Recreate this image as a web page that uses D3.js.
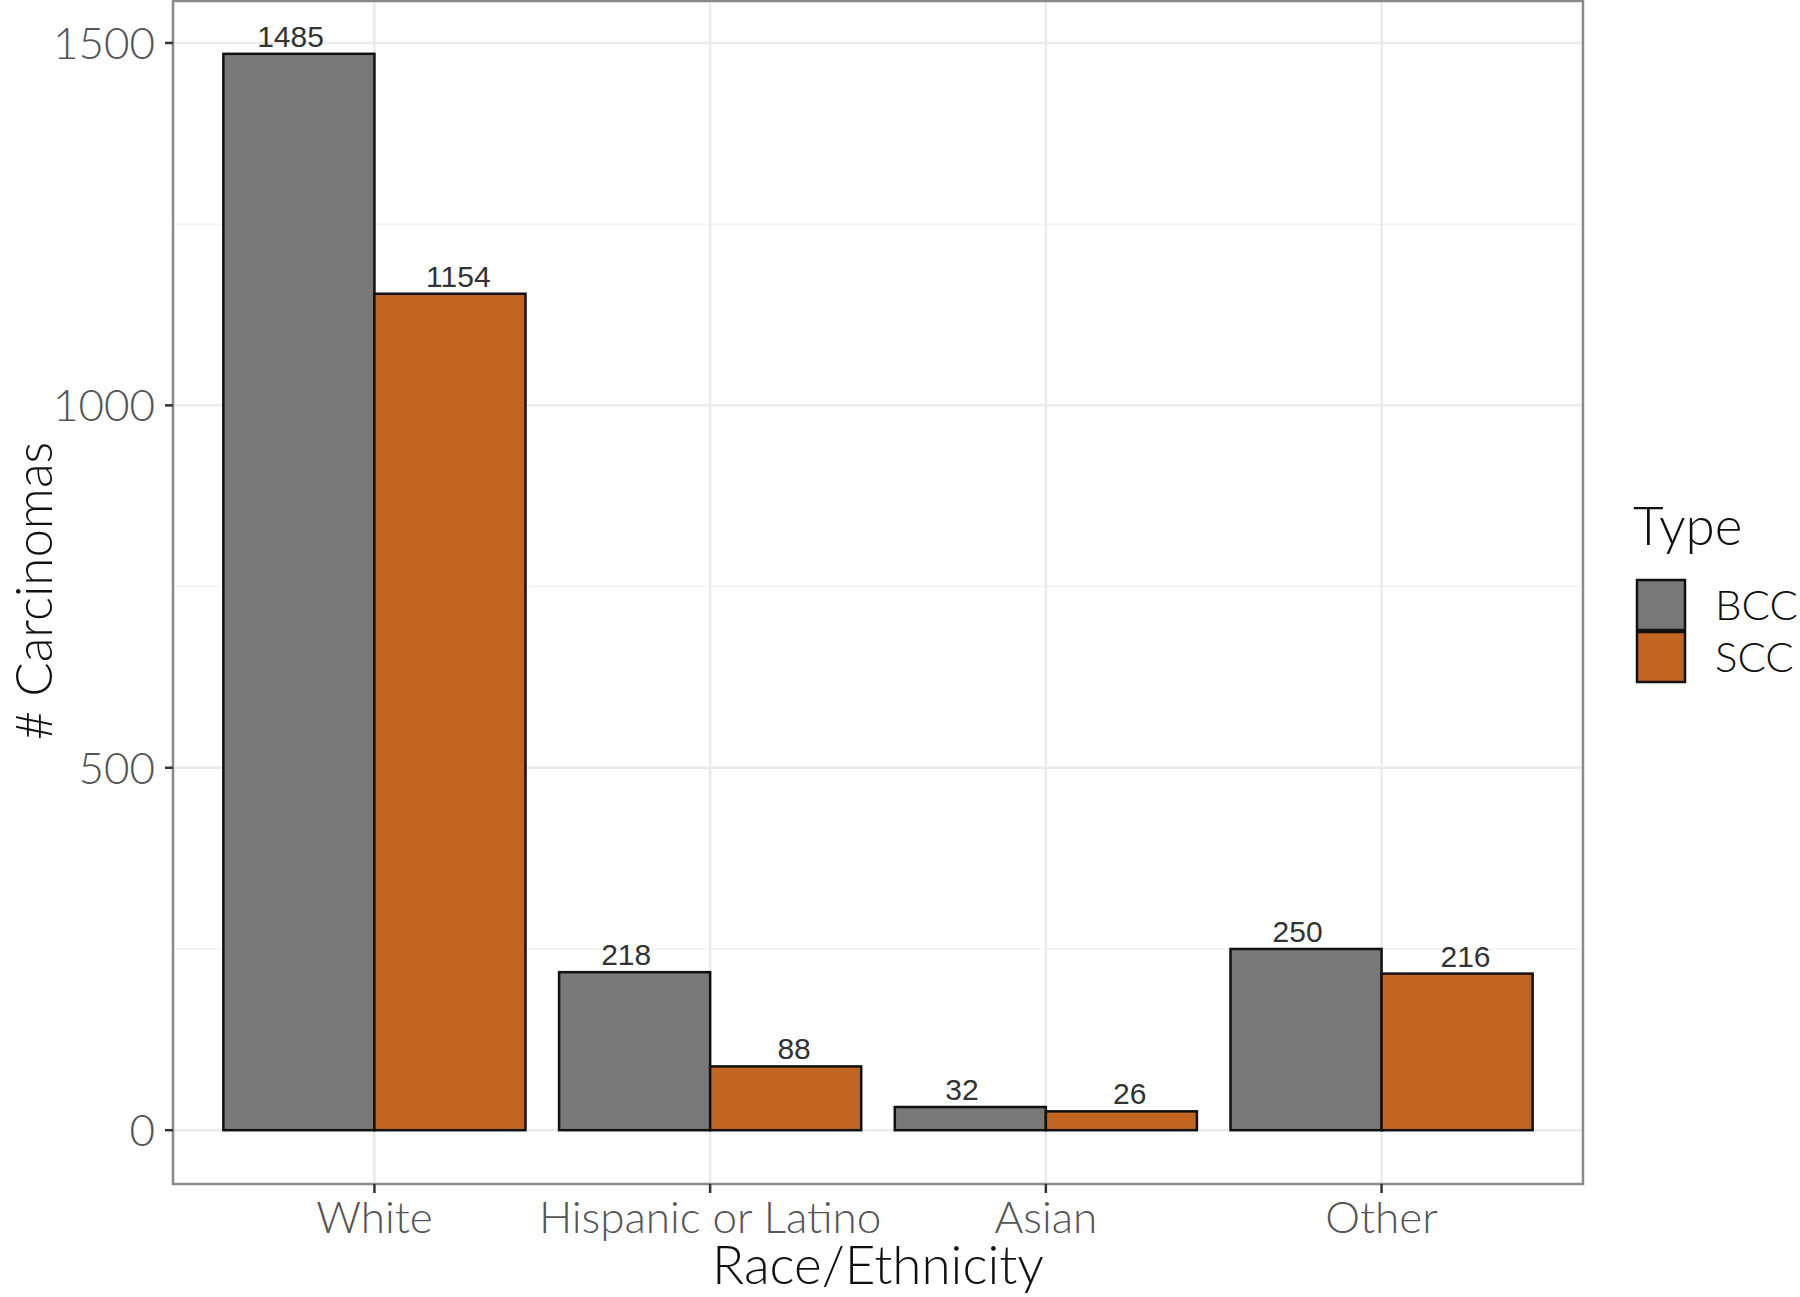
<!DOCTYPE html>
<html><head><meta charset="utf-8">
<script src="https://cdn.jsdelivr.net/npm/d3@7"></script>
<style>body{margin:0;background:#fff}svg{display:block}</style>
</head><body>
<svg id="c" width="1800" height="1297"></svg>
<script>
const categories = ["White", "Hispanic or Latino", "Asian", "Other"];
const types = ["BCC", "SCC"];
const bccValues = [1485, 218, 32, 250];
const sccValues = [1154, 88, 26, 216];
const yTicks = [0, 500, 1000, 1500];
const yMinor = [250, 750, 1250];
const colors = ["#787878", "#C16522"];

const svg = d3.select("#c");
const L = 173, R = 1583, T = 0, B = 1184;
const maxV = d3.max(bccValues.concat(sccValues));
const y = d3.scaleLinear().domain([-0.05*maxV, 1.05*maxV]).range([B, T]);
// ggplot-like discrete scale: categories at 1..n, expanded by 0.6
const step = (R - L) / (categories.length + 0.2);
const cx = d => L + (categories.indexOf(d) + 0.6) * step;
const xs = d3.scaleBand().domain(types).range([-0.45*step, 0.45*step]);
const xl = d3.scaleBand().domain(types).range([-0.5*step, 0.5*step]);

const font = "Lato, 'Open Sans', sans-serif";

// grid
const g = svg.append("g");
yMinor.forEach(v => g.append("line").attr("x1", L).attr("x2", R).attr("y1", y(v)).attr("y2", y(v)).attr("stroke", "#F2F2F2").attr("stroke-width", 1.5));
yTicks.forEach(v => g.append("line").attr("x1", L).attr("x2", R).attr("y1", y(v)).attr("y2", y(v)).attr("stroke", "#EBEBEB").attr("stroke-width", 2.5));
categories.forEach(c => g.append("line").attr("x1", cx(c)).attr("x2", cx(c)).attr("y1", T).attr("y2", B).attr("stroke", "#EBEBEB").attr("stroke-width", 2.5));

// bars
const rows = [];
categories.forEach((c, i) => {
  rows.push({c, t: "BCC", v: bccValues[i], col: colors[0]});
  rows.push({c, t: "SCC", v: sccValues[i], col: colors[1]});
});
svg.append("g").selectAll("rect").data(rows).join("rect")
  .attr("x", d => cx(d.c) + xs(d.t))
  .attr("width", xs.bandwidth())
  .attr("y", d => y(d.v))
  .attr("height", d => y(0) - y(d.v))
  .attr("fill", d => d.col)
  .attr("stroke", "#111").attr("stroke-width", 2.5);

svg.append("g").selectAll("text").data(rows).join("text")
  .attr("x", d => cx(d.c) + xl(d.t) + xl.bandwidth()/2)
  .attr("y", d => y(d.v) - 7)
  .attr("text-anchor", "middle")
  .attr("font-family", "'Liberation Sans', Arial, sans-serif")
  .attr("font-size", 30).attr("fill", "#333")
  .text(d => d.v);

// panel border
svg.append("rect").attr("x", L).attr("y", T + 1).attr("width", R - L).attr("height", B - T - 1)
  .attr("fill", "none").attr("stroke", "#8A8A8A").attr("stroke-width", 2.5);

// y axis
yTicks.forEach(v => {
  svg.append("line").attr("x1", L - 8).attr("x2", L).attr("y1", y(v)).attr("y2", y(v)).attr("stroke", "#333").attr("stroke-width", 2.5);
  svg.append("text").attr("x", L - 18).attr("y", y(v)).attr("dy", "0.36em").attr("text-anchor", "end")
    .attr("font-family", font).attr("font-weight", 300).attr("font-size", 44).attr("fill", "#555").text(v);
});
// x axis
categories.forEach(c => {
  svg.append("line").attr("x1", cx(c)).attr("x2", cx(c)).attr("y1", B).attr("y2", B + 9).attr("stroke", "#333").attr("stroke-width", 2.5);
  svg.append("text").attr("x", cx(c)).attr("y", 1233).attr("text-anchor", "middle")
    .attr("font-family", font).attr("font-weight", 300).attr("font-size", 44).attr("fill", "#555").text(c);
});

// axis titles
svg.append("text").attr("x", (L + R)/2).attr("y", 1284).attr("text-anchor", "middle")
  .attr("font-family", font).attr("font-weight", 300).attr("font-size", 53).attr("fill", "#111").text("Race/Ethnicity");
svg.append("text").attr("transform", `translate(52,591) rotate(-90)`).attr("text-anchor", "middle")
  .attr("font-family", font).attr("font-weight", 300).attr("font-size", 51).attr("fill", "#111").text("# Carcinomas");

// legend
svg.append("text").attr("x", 1633).attr("y", 545).attr("font-family", font).attr("font-weight", 300)
  .attr("font-size", 53).attr("fill", "#111").text("Type");
types.forEach((t, i) => {
  const ky = 580 + i * 52;
  svg.append("rect").attr("x", 1637).attr("y", ky).attr("width", 48).attr("height", 50)
    .attr("fill", colors[i]).attr("stroke", "#111").attr("stroke-width", 2.5);
  svg.append("text").attr("x", 1715).attr("y", ky + 25).attr("dy", "0.36em")
    .attr("font-family", font).attr("font-weight", 300).attr("font-size", 42).attr("fill", "#111").text(t);
});
</script>
</body></html>
